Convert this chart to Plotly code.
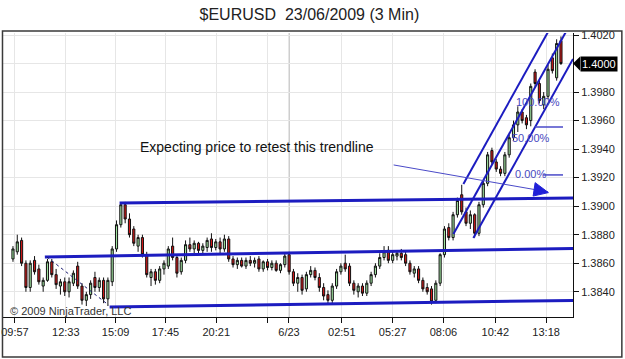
import plotly.graph_objects as go

# ---------------- data ----------------
title_text = "$EURUSD&nbsp; 23/06/2009 (3 Min)"
symbol_note = "© 2009 NinjaTrader, LLC"
comment_text = "Expecting price to retest this trendline"
last_price_label = "1.4000"

# candle values in pips above 1.3800 (0.0001 units), one entry per bar
opens = [63, 68, 76, 60, 43, 62, 56, 44, 48, 61, 52, 44, 47, 40, 46, 58, 44, 34, 38, 50,
         43, 48, 35, 47, 70, 87, 101, 91, 84, 72, 78, 66, 50, 54, 48, 56, 58, 72, 64, 54,
         62, 73, 70, 74, 69, 71, 77, 71, 75, 70, 77, 63, 59, 62, 58, 62, 60, 63, 56, 61,
         57, 60, 55, 59, 66, 54, 46, 50, 42, 52, 55, 50, 43, 38, 34, 44, 54, 60, 58, 46,
         40, 44, 39, 46, 52, 58, 64, 69, 62, 65, 67, 66, 60, 53, 56, 48, 43, 42, 34, 46,
         66, 85, 78, 94, 108, 96, 88, 94, 81, 101, 116, 139, 131, 126, 123, 136, 148, 157, 166, 162,
         160, 194, 186, 171, 177, 204, 190, 216]
highs = [72, 80, 78, 62, 62, 65, 59, 50, 63, 63, 56, 49, 50, 50, 55, 61, 46, 40, 48, 54,
         50, 50, 50, 72, 90, 102, 103, 95, 86, 80, 80, 68, 56, 56, 58, 62, 72, 78, 66, 64,
         76, 78, 76, 75, 74, 78, 81, 77, 78, 80, 79, 65, 64, 64, 64, 65, 64, 65, 62, 63,
         62, 62, 60, 67, 68, 56, 53, 52, 54, 58, 57, 53, 46, 41, 46, 56, 60, 66, 60, 48,
         46, 46, 48, 54, 60, 67, 72, 72, 68, 69, 70, 68, 62, 58, 58, 50, 46, 44, 48, 67,
         86, 88, 96, 106, 115, 99, 97, 95, 103, 118, 138, 141, 133, 128, 138, 150, 160, 170, 168, 164,
         186, 196, 188, 180, 199, 207, 217, 219]
lows = [61, 66, 58, 40, 40, 52, 45, 40, 47, 50, 42, 38, 37, 36, 44, 42, 31, 30, 35, 40,
        40, 32, 30, 44, 68, 85, 88, 78, 72, 68, 64, 50, 44, 45, 46, 52, 56, 62, 50, 52,
        60, 68, 67, 67, 66, 68, 68, 69, 67, 68, 61, 57, 56, 57, 56, 58, 57, 54, 54, 55,
        55, 54, 53, 57, 52, 44, 40, 38, 40, 50, 48, 40, 34, 31, 32, 42, 52, 54, 44, 38,
        36, 37, 37, 44, 50, 56, 62, 60, 60, 62, 62, 58, 52, 50, 46, 40, 38, 31, 32, 44,
        64, 76, 76, 92, 94, 86, 84, 78, 79, 99, 114, 129, 124, 121, 121, 134, 146, 152, 158, 154,
        156, 183, 172, 168, 175, 193, 188, 199]
closes = [70, 75, 60, 43, 60, 54, 47, 48, 61, 52, 45, 47, 40, 47, 53, 44, 34, 38, 46, 43,
          48, 35, 48, 70, 87, 101, 91, 80, 74, 78, 66, 52, 54, 48, 56, 60, 70, 64, 53, 62,
          73, 70, 74, 69, 72, 76, 71, 75, 70, 77, 63, 59, 62, 58, 62, 60, 62, 56, 61, 57,
          60, 55, 59, 65, 54, 46, 50, 41, 52, 55, 50, 43, 37, 34, 44, 54, 58, 56, 46, 41,
          44, 39, 46, 52, 58, 64, 68, 62, 66, 67, 64, 60, 54, 56, 48, 42, 40, 33, 46, 66,
          84, 78, 94, 104, 96, 88, 94, 81, 101, 116, 136, 131, 126, 123, 136, 148, 157, 166, 160, 157,
          184, 186, 174, 177, 196, 195, 214, 200]

# time-axis labels and the bar at which each one sits
tick_labels = ["09:57", "12:33", "15:09", "17:45", "20:21", "", "6/23", "02:51", "05:27", "08:06", "10:42", "13:18"]
tick_bars = [0.46, 12.24, 23.79, 35.33, 47.11, 58.89, 63.97, 76.21, 87.99, 99.77, 111.78, 123.56]
day_break_bar = 63.97

price_ticks = [1.3840, 1.3860, 1.3880, 1.3900, 1.3920, 1.3940, 1.3960, 1.3980, 1.4000, 1.4020]

# hand-drawn objects on the chart: (bar0, price0, bar1, price1)
channel_lines = [
    (24.71, 1.39022, 129.79, 1.39057),
    (7.39, 1.38644, 129.79, 1.38703),
    (22.40, 1.38293, 129.79, 1.38339),
]
dotted_line = (7.85, 1.38644, 22.17, 1.38307)
pitchfork_lines = [
    (104.39, 1.39156, 129.79, 1.40536),
    (102.08, 1.38805, 129.79, 1.40311),
    (106.70, 1.38777, 129.79, 1.40032),
]
fib_lines = [(120.97, 1.39555, 127.48, 1.39555), (122.86, 1.39219, 127.48, 1.39219)]
fib_labels = [("100.00%", 116.2, 1.39730), ("50.00%", 115.24, 1.39478), ("0.00%", 115.9, 1.39226)]
arrow_line = (88.22, 1.39289, 124.02, 1.39100)
arrow_head = [(121.02, 1.39165), (120.55, 1.39071), (124.09, 1.39095)]
comment_pos = (28.87, 1.39415)
last_price = 1.4000

PIP = 0.0001
BASE = 1.3800

# ---------------- figure ----------------
to_price = lambda vals: [BASE + v * PIP for v in vals]
bars = list(range(len(opens)))

fig = go.Figure(go.Candlestick(
    x=bars, open=to_price(opens), high=to_price(highs), low=to_price(lows), close=to_price(closes),
    increasing=dict(line=dict(color="#111111", width=1), fillcolor="#9fe29f"),
    decreasing=dict(line=dict(color="#111111", width=1), fillcolor="#d01818"),
    whiskerwidth=0, showlegend=False, hoverinfo="skip",
))

BLUE = "#1c1cc0"
THIN = "#4a4ac8"
shapes = []
for (a, b, c, d) in channel_lines:
    shapes.append(dict(type="line", xref="x", yref="y", x0=a, y0=b, x1=c, y1=d,
                       line=dict(color=BLUE, width=3)))
a, b, c, d = dotted_line
shapes.append(dict(type="line", xref="x", yref="y", x0=a, y0=b, x1=c, y1=d,
                   line=dict(color="#1a1a70", width=1, dash="dot")))
for (a, b, c, d) in pitchfork_lines:
    shapes.append(dict(type="line", xref="x", yref="y", x0=a, y0=b, x1=c, y1=d,
                       line=dict(color=BLUE, width=2)))
for (a, b, c, d) in fib_lines:
    shapes.append(dict(type="line", xref="x", yref="y", x0=a, y0=b, x1=c, y1=d,
                       line=dict(color=THIN, width=1.5)))
a, b, c, d = arrow_line
shapes.append(dict(type="line", xref="x", yref="y", x0=a, y0=b, x1=c, y1=d,
                   line=dict(color=THIN, width=1)))
p = arrow_head
shapes.append(dict(type="path", xref="x", yref="y",
                   path=f"M {p[0][0]},{p[0][1]} L {p[1][0]},{p[1][1]} L {p[2][0]},{p[2][1]} Z",
                   fillcolor="#2020d8", line=dict(color="#2020d8", width=1)))
# day separator
shapes.append(dict(type="line", xref="x", yref="paper", x0=day_break_bar, x1=day_break_bar, y0=0, y1=1,
                   line=dict(color="#9a9a9a", width=1), layer="below"))
# last price marker arrow tip
shapes.append(dict(type="path", xref="paper", yref="y",
                   path=f"M 1.0,{last_price} L 1.0125,{last_price + 0.00050} L 1.0125,{last_price - 0.00050} Z",
                   fillcolor="black", line=dict(color="black", width=0)))
# outer frame
shapes.append(dict(type="rect", xref="paper", yref="paper", x0=-0.0009, x1=1.0857, y0=-0.1408, y1=1.0070,
                   line=dict(color="#3a3a3a", width=1.5)))

annotations = []
for (txt, bx, py) in fib_labels:
    annotations.append(dict(x=bx, y=py, xref="x", yref="y", text=txt, showarrow=False,
                            xanchor="left", yanchor="middle",
                            font=dict(family="Liberation Sans, Arial", size=11, color="#4848c0")))
annotations.append(dict(x=comment_pos[0], y=comment_pos[1], xref="x", yref="y", text=comment_text,
                        showarrow=False, xanchor="left", yanchor="middle",
                        font=dict(family="Liberation Sans, Arial", size=14, color="#111111")))
annotations.append(dict(x=0.0087, y=0.021, xref="paper", yref="paper", text=symbol_note,
                        showarrow=False, xanchor="left", yanchor="middle",
                        font=dict(family="Liberation Sans, Arial", size=11, color="#333333")))
annotations.append(dict(x=1.0122, y=last_price, xref="paper", yref="y", text=last_price_label,
                        showarrow=False, xanchor="left", yanchor="middle", bgcolor="black",
                        borderpad=1, font=dict(family="Liberation Sans, Arial", size=11, color="white")))

fig.update_layout(
    width=625, height=359,
    margin=dict(l=1, r=52, t=33, b=42),
    paper_bgcolor="white", plot_bgcolor="white",
    title=dict(text=title_text, x=0.495, xanchor="center", y=1 - 14 / 359, yanchor="middle",
               font=dict(family="Liberation Sans, Arial", size=16, color="#222222")),
    shapes=shapes, annotations=annotations,
    font=dict(family="Liberation Sans, Arial", size=11, color="#222222"),
)
fig.update_xaxes(
    range=[-2.31, 129.79], rangeslider=dict(visible=False),
    tickmode="array", tickvals=tick_bars, ticktext=tick_labels,
    ticks="outside", ticklen=5, tickcolor="#111111", ticklabeloverflow="allow",
    showline=True, linecolor="#111111", linewidth=1, mirror=False,
    showgrid=True, gridcolor="#e6e6e6", zeroline=False,
    tickfont=dict(size=11, color="#222222"),
)
fig.update_yaxes(
    side="right", range=[1.38223, 1.40214],
    tickmode="array", tickvals=price_ticks,
    ticktext=["" if abs(v - last_price) < 1e-9 else f"{v:.4f}" for v in price_ticks],
    ticks="outside", ticklen=5, tickcolor="#111111",
    showline=True, linecolor="#111111", linewidth=1,
    showgrid=True, gridcolor="#e6e6e6", zeroline=False,
    tickfont=dict(size=11, color="#222222"),
)

fig.write_html("out.html")
